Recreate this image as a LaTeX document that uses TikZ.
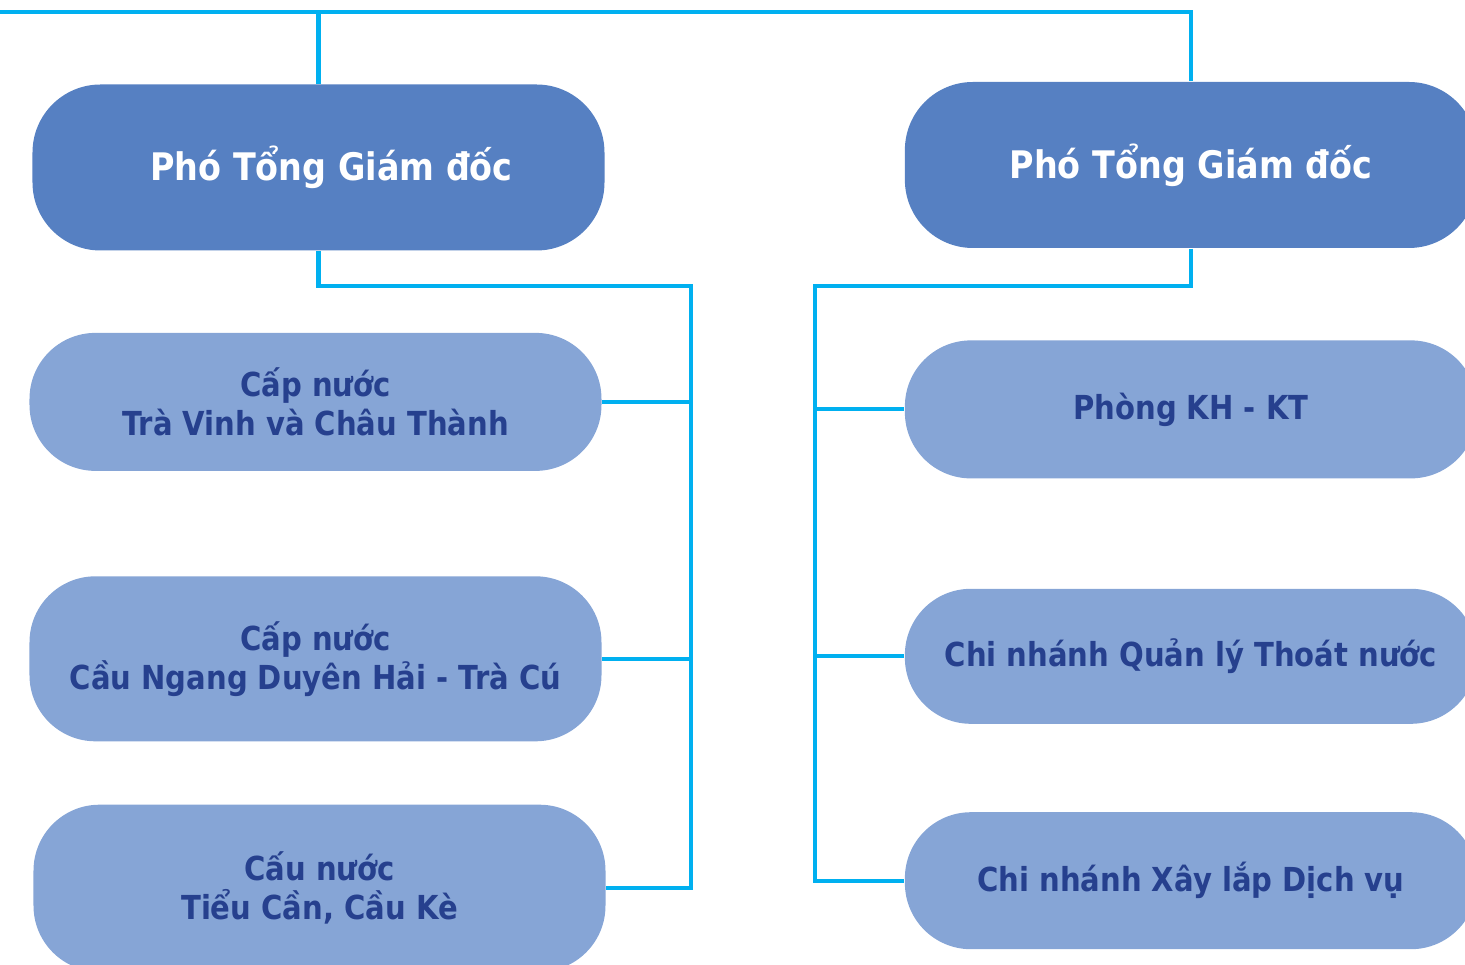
\documentclass[tikz,border=0pt]{standalone}
\usepackage{fontspec}
\setmainfont{DejaVu Sans}[FakeStretch=0.88]
\usetikzlibrary{positioning}

\definecolor{bossblue}{RGB}{86,128,194}
\definecolor{unitblue}{RGB}{134,165,214}
\definecolor{inkblue}{RGB}{38,64,142}
\definecolor{wireblue}{RGB}{0,176,240}

\begin{document}
\begin{tikzpicture}[
                    bossnode/.style={rectangle, rounded corners=0.68cm, fill=bossblue, text=white, minimum width=5.72cm, minimum height=1.66cm, font=\fontsize{10.8pt}{13pt}\selectfont\bfseries},
                    unitnode/.style={rectangle, rounded corners=0.66cm, fill=unitblue, text=inkblue, minimum width=5.72cm, minimum height=1.38cm, align=center, font=\fontsize{9.4pt}{11.1pt}\selectfont\bfseries},
                    wire/.style={line width=1.15pt, draw=wireblue},
                ]
                    \clip (0,0) rectangle (14.65,-9.65);

                    %Nodes
                    \node[bossnode](vpl) at (3.185,-1.675) {\hspace*{0.26cm}Phó Tổng Giám đốc};
                    \node[bossnode](vpr)[right=2.99cm of vpl, yshift=0.025cm] {Phó Tổng Giám đốc};

                    \node[unitnode](cntv)[below=0.81cm of vpl, xshift=-0.03cm] {Cấp nước\\Trà Vinh và Châu Thành};
                    \node[unitnode, minimum height=1.65cm](cncn)[below=1.04cm of cntv] {Cấp nước\\Cầu Ngang Duyên Hải - Trà Cú};
                    \node[unitnode, minimum height=1.67cm](cntc)[below=0.62cm of cncn, xshift=0.04cm] {Cấu nước\\Tiểu Cần, Cầu Kè};

                    \node[unitnode](khkt)[below=0.91cm of vpr] {Phòng KH - KT};
                    \node[unitnode, minimum height=1.35cm](thoat)[below=1.09cm of khkt] {Chi nhánh Quản lý Thoát nước};
                    \node[unitnode, minimum height=1.37cm](xaylap)[below=0.87cm of thoat] {Chi nhánh Xây lắp Dịch vụ};

                    %Joints
                    \coordinate (busleft) at (0,-0.12);
                    \coordinate (ljoint) at (6.91,-2.86);
                    \coordinate (rjoint) at (8.15,-2.86);

                    %Lines
                    \draw[wire](busleft) -| (vpr.north);
                    \draw[wire](vpl.north) -- (vpl.north |- busleft);

                    \draw[wire](vpl.south) |- (ljoint) |- (cntc.east);
                    \draw[wire](cntv.east) -- (cntv.east -| ljoint);
                    \draw[wire](cncn.east) -- (cncn.east -| ljoint);

                    \draw[wire](vpr.south) |- (rjoint) |- (xaylap.west);
                    \draw[wire](khkt.west) -- (khkt.west -| rjoint);
                    \draw[wire](thoat.west) -- (thoat.west -| rjoint);
                \end{tikzpicture}
\end{document}
